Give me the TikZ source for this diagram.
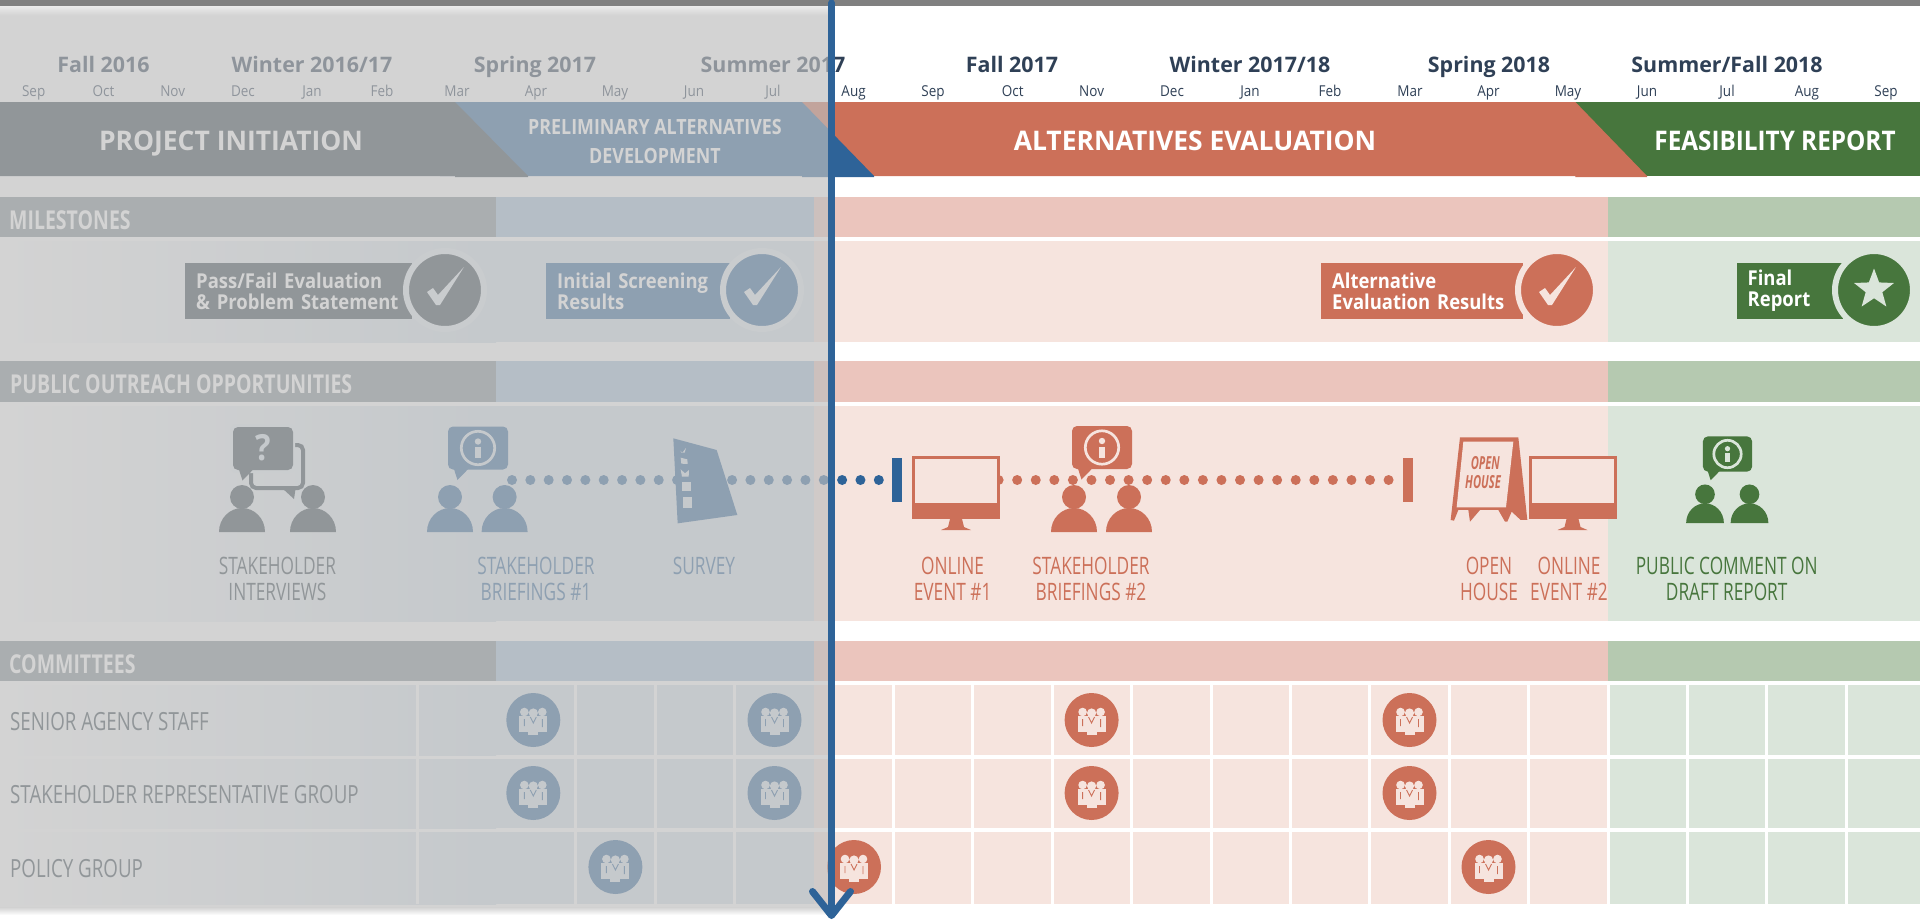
\documentclass[tikz,border=0pt]{standalone}
\usepackage{fontspec}
\setmainfont{Open Sans}
\newfontfamily\condfont[FakeStretch=0.72]{Open Sans}
\newfontfamily\headfont[FakeStretch=0.75]{Open Sans}
\newfontfamily\prelimfont[FakeStretch=0.85]{Open Sans}
\newfontfamily\monthfont[FakeStretch=0.90]{Open Sans}
\newfontfamily\bandfont[FakeStretch=0.98]{Open Sans}
\newfontfamily\signfont[FakeStretch=0.62]{Open Sans}
\usetikzlibrary{arrows.meta,shapes.geometric}
\definecolor{navy}{HTML}{2F4056}
\definecolor{secgray}{HTML}{37464F}
\definecolor{secblue}{HTML}{2E6398}
\definecolor{secred}{HTML}{CC7059}
\definecolor{secgreen}{HTML}{47763D}
\definecolor{stripgray}{HTML}{828E94}
\definecolor{stripblue}{HTML}{A4BED7}
\definecolor{stripred}{HTML}{EBC5BD}
\definecolor{stripgreen}{HTML}{B5C9B0}
\definecolor{bodyblue}{HTML}{D4E0E9}
\definecolor{bodyred}{HTML}{F6E4DE}
\definecolor{bodygreen}{HTML}{DAE5DA}
\definecolor{veil}{RGB}{190,190,190}
\colorlet{iconc}{secred}
\colorlet{iconb}{bodyred}
\tikzset{
  iconcol/.code={\colorlet{iconc}{#1}},
  iconbg/.code={\colorlet{iconb}{#1}},
  season/.style={anchor=base,inner sep=0pt,text=navy,font=\bfseries\fontsize{21.4}{24}\selectfont},
  month/.style={anchor=base,inner sep=0pt,text=navy,font=\monthfont\fontsize{15}{16}\selectfont},
  bandtitle/.style={anchor=base,inner sep=0pt,text=white,font=\bandfont\bfseries\fontsize{27}{29}\selectfont},
  striptitle/.style={anchor=base west,inner sep=0pt,text=white,font=\headfont\bfseries\fontsize{26}{28}\selectfont},
  rowtitle/.style={anchor=base west,inner sep=0pt,text=secgray,font=\headfont\fontsize{25}{28}\selectfont},
  outlabel/.style={anchor=base,inner sep=0pt,align=center,font=\condfont\fontsize{24}{26}\selectfont},
  mbox/.style={anchor=west,inner sep=0pt,minimum height=56pt,text=white,align=left,
    font=\monthfont\bfseries\fontsize{20.5}{21}\selectfont},
  mring/.style={circle,inner sep=0pt,minimum size=78pt,line width=6pt},
  endbar/.style={inner sep=0pt,minimum width=10pt,minimum height=44pt},
  dotline/.style={line width=10pt,line cap=round,dash pattern=on 0pt off #1},
  committee/.style={circle,inner sep=0pt,minimum size=54pt},
  person/.pic={
    \fill[iconc] (0,-35) circle (12) ;
    \fill[iconc] (-23,0) .. controls (-23,-14) and (-12,-24) .. (0,-24)
      .. controls (12,-24) and (23,-14) .. (23,0) -- cycle ;
  },
  speech/.pic={
    \fill[iconc,rounded corners=5pt] (-30,-21.5) rectangle (30,21.5) ;
    \fill[iconc] (-26,15) -- (-20.5,32) -- (-4,15) -- cycle ;
  },
  infobubble/.pic={
    \pic[transform shape] {speech} ;
    \draw[iconb,line width=2.7pt] (0,0) circle (16.7) ;
    \fill[iconb] (0,-6.5) circle (3.2) ;
    \fill[iconb] (-3,-1) rectangle (3,10) ;
  },
  monitor/.pic={
    \fill[iconc] (-44,-63) rectangle (44,0) ;
    \fill[iconb] (-41,-60) rectangle (41,-16) ;
    \fill[iconc] (-6,0) -- (6,0) -- (8,8) -- (15,11) -- (-15,11) -- (-8,8) -- cycle ;
  },
  checkmark/.pic={
    \fill[iconb] (-18,2) -- (-12,-2) -- (-7,5) -- (19,-23) -- (-5,15) -- (-9,15) -- cycle ;
  },
  groupicon/.pic={
    \fill[iconb] (-9,-8) circle (4.3) (0,-7) circle (4.6) (9,-8) circle (4.3) ;
    \fill[iconb] (-14,-4) rectangle (14,12) ;
    \fill[iconb] (-5,-3) rectangle (5,15) ;
    \draw[iconc,line width=.9pt] (-9,-1) -- (-9,6) (9,-1) -- (9,7) (-3,-3) -- (0,3) -- (3,-3) ;
  },
}
\begin{document}
\begin{tikzpicture}[x=1pt,y=-1pt]
  \useasboundingbox (0,0) rectangle (1920,919) ;
  % bodies and strips
  \foreach \ya/\yb in {241/342,406/621,685/755,759/828,832/904} {
    \shade[left color=white,right color=bodyblue] (0,\ya) rectangle (496,\yb) ;
    \fill[bodyblue] (496,\ya) rectangle (814,\yb) ;
    \fill[bodyred] (814,\ya) rectangle (1608,\yb) ;
    \fill[bodygreen] (1608,\ya) rectangle (1920,\yb) ;
  }
  \foreach \ya/\yb in {197/237,361/402,641/681} {
    \fill[stripgray] (0,\ya) rectangle (496,\yb) ;
    \fill[stripblue] (496,\ya) rectangle (814,\yb) ;
    \fill[stripred] (814,\ya) rectangle (1608,\yb) ;
    \fill[stripgreen] (1608,\ya) rectangle (1920,\yb) ;
  }
  % cell dividers
  \foreach \x in {417,575.8,655.2,734.6,893.4,972.8,1052.2,1131.6,1211,1290.4,1369.8,1449.2,1528.6,1608,1687.4,1766.8,1846.2}
    \draw[white,line width=3pt] (\x,685) -- (\x,904) ;
  % phase band
  \fill[secgreen] (1500,102) rectangle (1920,176) ;
  \fill[secred] (800,102) -- (1575.4,102) -- (1647,176) -- (1647,177) -- (1575.4,177) -- (1575.4,176) -- (800,176) -- cycle ;
  \fill[secblue] (440,102) -- (802,102) -- (874,176) -- (874,177) -- (802,177) -- (802,176) -- (440,176) -- cycle ;
  \fill[secgray] (0,102) -- (455,102) -- (528,176) -- (528,177) -- (455,177) -- (455,176) -- (0,176) -- cycle ;
  \node[bandtitle] (bandinit) at (231,150) {PROJECT INITIATION} ;
  \node[bandtitle,font=\prelimfont\bfseries\fontsize{21}{29}\selectfont,align=center] (bandprelim) at (655,163) {PRELIMINARY ALTERNATIVES\\DEVELOPMENT} ;
  \node[bandtitle] (bandeval) at (1195,150) {ALTERNATIVES EVALUATION} ;
  \node[bandtitle,font=\monthfont\bfseries\fontsize{27}{29}\selectfont] (bandfeas) at (1775,150) {FEASIBILITY REPORT} ;
  % calendar heads
  \foreach \x/\t [count=\i] in {103.5/Fall 2016,312/Winter 2016\slash 17,535/Spring 2017,773/Summer 2017,1012/Fall 2017,1250/Winter 2017\slash 18,1489/Spring 2018,1727/Summer\slash Fall 2018}
    \node[season] (season\i) at (\x,72) {\t} ;
  \foreach \x/\t [count=\i] in {33.7/Sep,103.5/Oct,172.7/Nov,243/Dec,312/Jan,382/Feb,457/Mar,536/Apr,615/May,694/Jun,773/Jul,853.6/Aug,933/Sep,1012.7/Oct,1091.6/Nov,1172/Dec,1250/Jan,1330/Feb,1410/Mar,1488.5/Apr,1568/May,1647/Jun,1727/Jul,1807/Aug,1886/Sep}
    \node[month] (month\i) at (\x,96) {\t} ;
  % section titles
  \node[striptitle] (milestones) at (9,229) {MILESTONES} ;
  \node[striptitle] (outreach) at (10,393) {PUBLIC OUTREACH OPPORTUNITIES} ;
  \node[striptitle] (committees) at (9,673) {COMMITTEES} ;
  % milestones
  \node[mbox,fill=secgray,minimum width=227pt,text width=205pt] (mboxa) at (185,291) {Pass/Fail Evaluation\\\& Problem Statement} ;
  \node[mring,fill=secgray,draw=white!30!bodyblue] (mcircb) at (445,290) {} ;
  \pic[iconbg=white!30!bodyblue] at (mcircb) {checkmark} ;
  \node[mbox,fill=secblue,minimum width=184pt,text width=162pt] (mboxb) at (546,291) {Initial Screening\\Results} ;
  \node[mring,fill=secblue,draw=white!30!bodyblue] (mcirca) at (762,290) {} ;
  \pic[iconbg=white!30!bodyblue] at (mcirca) {checkmark} ;
  \node[mbox,fill=secred,minimum width=202pt,text width=180pt] (mboxc) at (1321,291) {Alternative\\Evaluation Results} ;
  \node[mring,fill=secred,draw=bodyred] (mcircc) at (1557,290) {} ;
  \pic at (mcircc) {checkmark} ;
  \node[mbox,fill=secgreen,minimum width=106pt,text width=84pt] (mboxd) at (1736.5,291) {Final\\Report\vphantom{y}} ;
  \node[mring,fill=secgreen,draw=bodygreen] (mcircd) at (1874,290) {} ;
  \node[star,star points=5,star point ratio=2.4,inner sep=0pt,minimum size=42pt,fill=bodygreen] (mstar) at (1874,289.5) {} ;
  % dotted timelines
  \coordinate (dotstarta) at (512,480) ;
  \coordinate (dotstartb) at (998.6,480) ;
  \node[endbar,fill=secblue] (bara) at (897,480) {} ;
  \node[endbar,fill=secred] (barb) at (1408,480) {} ;
  \draw[secblue,dotline=18.34pt] (dotstarta) -- (bara.west) ;
  \draw[secred,dotline=18.57pt] (dotstartb) -- (barb.west) ;
  % stakeholder interviews
  \begin{scope}[iconcol=secgray,iconbg=bodyblue]
    \pic at (242,532) {person} ;
    \pic at (313,532) {person} ;
    \draw[iconc,line width=4pt,rounded corners=5pt] (251,445) rectangle (303,488) ;
    \fill[iconc] (282,488) -- (294,499) -- (296,486) -- cycle ;
    \fill[bodyblue!60!white,rounded corners=6pt] (230,424) rectangle (295,473) ;
    \pic at (263,448.5) {speech} ;
    \node[inner sep=0pt,text=iconb,font=\monthfont\bfseries\fontsize{36}{36}\selectfont] (askmark) at (263,448) {?} ;
  \end{scope}
  % stakeholder briefings, first
  \begin{scope}[iconcol=secblue,iconbg=bodyblue]
    \pic at (450,532) {person} ;
    \pic at (504.6,532) {person} ;
    \pic at (478,448) {infobubble} ;
  \end{scope}
  % survey sheet
  \begin{scope}[shift={(640,420)},x=.3333pt,y=-.3333pt]
    \fill[secblue] (100,55) -- (230,90) -- (292,285) -- (113,310) -- cycle ;
    \fill[bodyblue] (121,92) -- (127,98) -- (138,84) -- (134,98) -- (124,98) -- cycle ;
    \fill[bodyblue] (122,113) -- (142,118) -- (143,132) -- (124,131) -- cycle ;
    \fill[bodyblue] (122,148) -- (135,160) -- (147,150) -- (146,170) -- (126,170) -- cycle ;
    \fill[bodyblue] (125,186) rectangle (152,213) ;
    \fill[bodyblue] (129,232) rectangle (157,263) ;
  \end{scope}
  % online event, first
  \pic at (956,519) {monitor} ;
  % stakeholder briefings, second
  \pic at (1074,532) {person} ;
  \pic at (1129,532) {person} ;
  \pic at (1102,447.5) {infobubble} ;
  % open house sign
  \begin{scope}[shift={(1430,420)},x=.3333pt,y=-.3333pt]
    \fill[secred] (90,52) -- (265,52) -- (292,300) -- (272,300) -- (245,275) -- (232,305) -- (225,305) -- (205,270) -- (150,270) -- (120,305) -- (115,270) -- (85,270) -- (72,302) -- (62,300) -- cycle ;
    \fill[bodyred] (100,65) -- (250,65) -- (228,262) -- (80,262) -- cycle ;
    \node[inner sep=0pt,text=secred,font=\signfont\bfseries\itshape\fontsize{18}{18}\selectfont] (signopen) at (166,130) {OPEN} ;
    \node[inner sep=0pt,text=secred,font=\signfont\bfseries\itshape\fontsize{18}{18}\selectfont] (signhouse) at (159,187) {HOUSE} ;
  \end{scope}
  % online event, second
  \pic at (1572.5,519) {monitor} ;
  % public comment
  \begin{scope}[iconcol=secgreen,iconbg=bodygreen]
    \pic[scale=.82] at (1705,523) {person} ;
    \pic[scale=.82] at (1749.5,523) {person} ;
    \pic[scale=.82] at (1727.5,454) {infobubble} ;
  \end{scope}
  % outreach labels
  \node[outlabel,text=secgray] (lblinterviews) at (277.4,600) {STAKEHOLDER\\INTERVIEWS} ;
  \node[outlabel,text=secblue] (lblbriefa) at (536,600) {STAKEHOLDER\\BRIEFINGS \#1} ;
  \node[outlabel,text=secblue] (lblsurvey) at (704,574) {SURVEY} ;
  \node[outlabel,text=secred] (lblonlinea) at (952.6,600) {ONLINE\\EVENT \#1} ;
  \node[outlabel,text=secred] (lblbriefb) at (1091,600) {STAKEHOLDER\\BRIEFINGS \#2} ;
  \node[outlabel,text=secred] (lblhouse) at (1489,600) {OPEN\\HOUSE} ;
  \node[outlabel,text=secred] (lblonlineb) at (1569,600) {ONLINE\\EVENT \#2} ;
  \node[outlabel,text=secgreen] (lblcomment) at (1726.7,600) {PUBLIC COMMENT ON\\DRAFT REPORT} ;
  % committees
  \node[rowtitle] (rowsenior) at (10,730) {SENIOR AGENCY STAFF} ;
  \node[rowtitle] (rowrep) at (10,803) {STAKEHOLDER REPRESENTATIVE GROUP} ;
  \node[rowtitle] (rowpolicy) at (10,877) {POLICY GROUP} ;
  \foreach \x/\y/\c/\b [count=\i] in {533.3/720/secblue/bodyblue,774.5/720/secblue/bodyblue,533.3/793/secblue/bodyblue,774.5/793/secblue/bodyblue,615.4/867/secblue/bodyblue,854/867/secred/bodyred,1091.6/720/secred/bodyred,1409.5/720/secred/bodyred,1091.6/793/secred/bodyred,1409.5/793/secred/bodyred,1488.5/867/secred/bodyred} {
    \node[committee,fill=\c] (meet\i) at (\x,\y) {} ;
    \pic[iconcol=\c,iconbg=\b] at (meet\i) {groupicon} ;
  }
  % veil over the past months
  \fill[veil,opacity=.67] (0,6) rectangle (831,907) ;
  \shade[top color=black!8,bottom color=black!17] (0,6) rectangle (831,15) ;
  \shade[top color=black!18,bottom color=white] (0,907) rectangle (831,915) ;
  \fill[gray] (0,0) rectangle (1920,6) ;
  % today marker
  \coordinate (nowtop) at (831.5,3) ;
  \coordinate (nowbot) at (831.5,919) ;
  \draw[secblue,line width=7pt,line cap=round,-{Straight Barb[length=24pt,width=38pt,round]}] (nowtop) -- (nowbot) ;
\end{tikzpicture}
\end{document}
